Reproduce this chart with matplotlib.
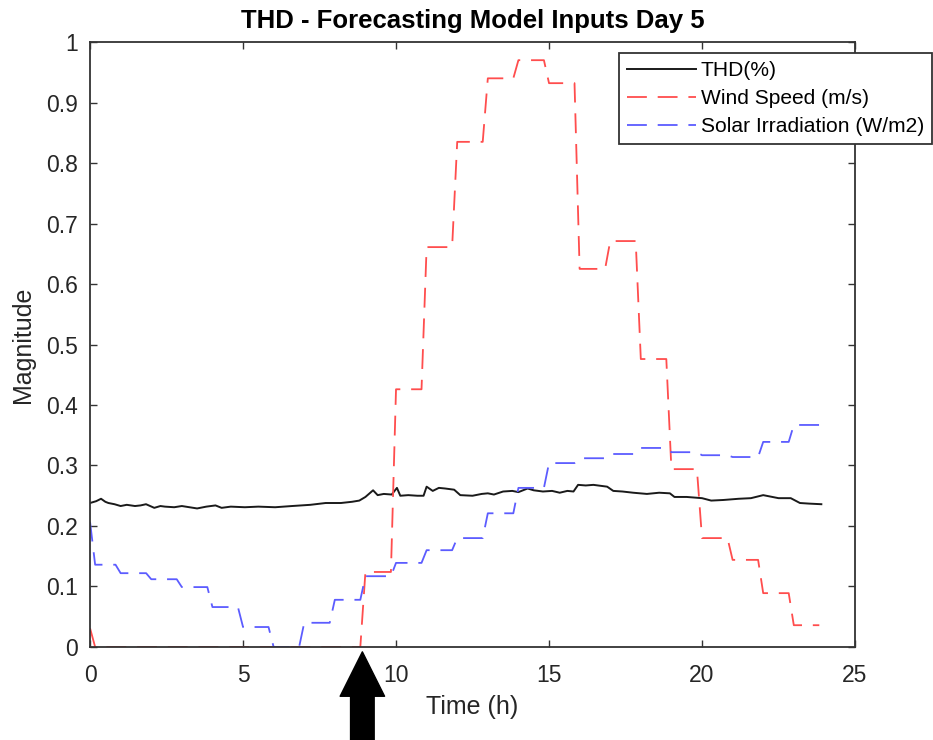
import numpy as np
import matplotlib
matplotlib.use("Agg")
from matplotlib import pyplot as plt
from matplotlib.ticker import FuncFormatter

plt.rcParams['font.family'] = ['Liberation Sans', 'DejaVu Sans']

# hourly model inputs (value held for each hour, sampled every 10 min)
wind_hourly = [0.0, 0.0, 0.0, 0.0, 0.0, 0.0, 0.0, 0.0, 0.0, 0.124, 0.426, 0.661,
               0.835, 0.940, 0.970, 0.932, 0.625, 0.671, 0.476, 0.294, 0.180,
               0.144, 0.089, 0.036]
wind_first = 0.031
solar_hourly = [0.136, 0.122, 0.112, 0.099, 0.066, 0.033, 0.0, 0.040, 0.078,
                0.117, 0.139, 0.160, 0.180, 0.221, 0.263, 0.304, 0.312, 0.319,
                0.329, 0.322, 0.317, 0.314, 0.339, 0.367]
solar_first = 0.207

# THD(%)
thd_t = [0.0, 0.2, 0.36, 0.5, 0.6, 0.8, 1.0, 1.2, 1.47, 1.65, 1.83, 2.1, 2.3,
         2.45, 2.75, 3.0, 3.5, 3.8, 4.1, 4.3, 4.6, 5.06, 5.5, 6.05, 6.6, 7.2,
         7.7, 8.2, 8.56, 8.8, 9.0, 9.25, 9.4, 9.6, 9.86, 10.03, 10.14, 10.4,
         10.7, 10.9, 11.0, 11.2, 11.4, 11.6, 11.9, 12.1, 12.5, 12.8, 13.0,
         13.2, 13.5, 13.8, 14.0, 14.3, 14.5, 14.8, 15.1, 15.35, 15.6, 15.8,
         15.95, 16.2, 16.45, 16.9, 17.1, 17.4, 17.75, 18.2, 18.6, 18.95, 19.1,
         19.5, 20.0, 20.3, 20.7, 21.2, 21.6, 22.0, 22.5, 22.9, 23.2, 23.5, 23.9]
thd_v = [0.238, 0.241, 0.245, 0.240, 0.238, 0.236, 0.233, 0.235, 0.233, 0.234,
         0.236, 0.230, 0.233, 0.232, 0.231, 0.233, 0.229, 0.232, 0.234, 0.230,
         0.232, 0.231, 0.232, 0.231, 0.233, 0.235, 0.238, 0.238, 0.240, 0.242,
         0.248, 0.259, 0.251, 0.253, 0.252, 0.263, 0.250, 0.251, 0.250, 0.250,
         0.265, 0.258, 0.263, 0.262, 0.260, 0.251, 0.250, 0.253, 0.254, 0.252,
         0.257, 0.258, 0.256, 0.262, 0.259, 0.257, 0.258, 0.255, 0.258, 0.257,
         0.268, 0.267, 0.268, 0.265, 0.258, 0.257, 0.255, 0.253, 0.255, 0.254,
         0.248, 0.248, 0.246, 0.242, 0.243, 0.245, 0.246, 0.251, 0.246, 0.246,
         0.238, 0.237, 0.236]

labels = ['THD(%)', 'Wind Speed (m/s)', 'Solar Irradiation (W/m2)']
x_ticks = [0, 5, 10, 15, 20, 25]
y_ticks = [0, 0.1, 0.2, 0.3, 0.4, 0.5, 0.6, 0.7, 0.8, 0.9, 1]
marked_hour = 8.9


def Expand(hourly, first):
    """ hourly values held over six 10-minute samples """
    v = np.repeat(np.array(hourly, dtype=float), 6)
    v[0] = first
    t = np.arange(len(v)) / 6.0
    return t, v


fig = plt.figure(figsize=(9.33, 7.4), dpi=100)
ax = fig.add_axes([0.0965, 0.1257, 0.8199, 0.8175])

tw, vw = Expand(wind_hourly, wind_first)
ts, vs = Expand(solar_hourly, solar_first)

ax.plot(thd_t, thd_v, color='#1a1a1a', lw=1.4, label=labels[0])
ax.plot(tw, vw, color='#ff4d4d', lw=1.3, dashes=[11, 6], label=labels[1])
ax.plot(ts, vs, color='#5c5cff', lw=1.3, dashes=[11, 6], label=labels[2])

ax.set_xlim(0, 25)
ax.set_ylim(0, 1)
ax.set_xticks(x_ticks)
ax.set_yticks(y_ticks)
ax.yaxis.set_major_formatter(FuncFormatter(lambda v, p: '%g' % v))
ax.tick_params(direction='in', length=5, width=1, color='#333333',
               labelsize=16.5, labelcolor='#262626', top=True, right=True)
ax.tick_params(axis='x', pad=12)
ax.tick_params(axis='y', pad=9)
for s in ax.spines.values():
    s.set_color('#333333')
    s.set_linewidth(1.3)

ax.set_xlabel('Time (h)', fontsize=18, color='#262626', labelpad=6)
ax.set_ylabel('Magnitude', fontsize=18, color='#262626', labelpad=8)
ax.set_title('THD - Forecasting Model Inputs Day 5', fontsize=18.5,
             fontweight='bold', pad=10)

leg = ax.legend(loc='upper left', bbox_to_anchor=(619/933, 1 - 53/740),
                bbox_transform=fig.transFigure, fontsize=15.1, frameon=True,
                fancybox=False, handlelength=3.25, handletextpad=0.25,
                labelspacing=0.42, borderpad=0.4, borderaxespad=0)
leg.get_frame().set_edgecolor('#333333')
leg.get_frame().set_linewidth(1.3)
leg.get_frame().set_alpha(1)

# arrow pointing at the hour of interest
ax.annotate('', xy=(marked_hour, -0.008), xytext=(marked_hour, -0.25),
            xycoords='data', textcoords='data', annotation_clip=False,
            arrowprops=dict(facecolor='black', edgecolor='black',
                            width=17, headwidth=32, headlength=32))

fig.savefig('out.png', dpi=100)
